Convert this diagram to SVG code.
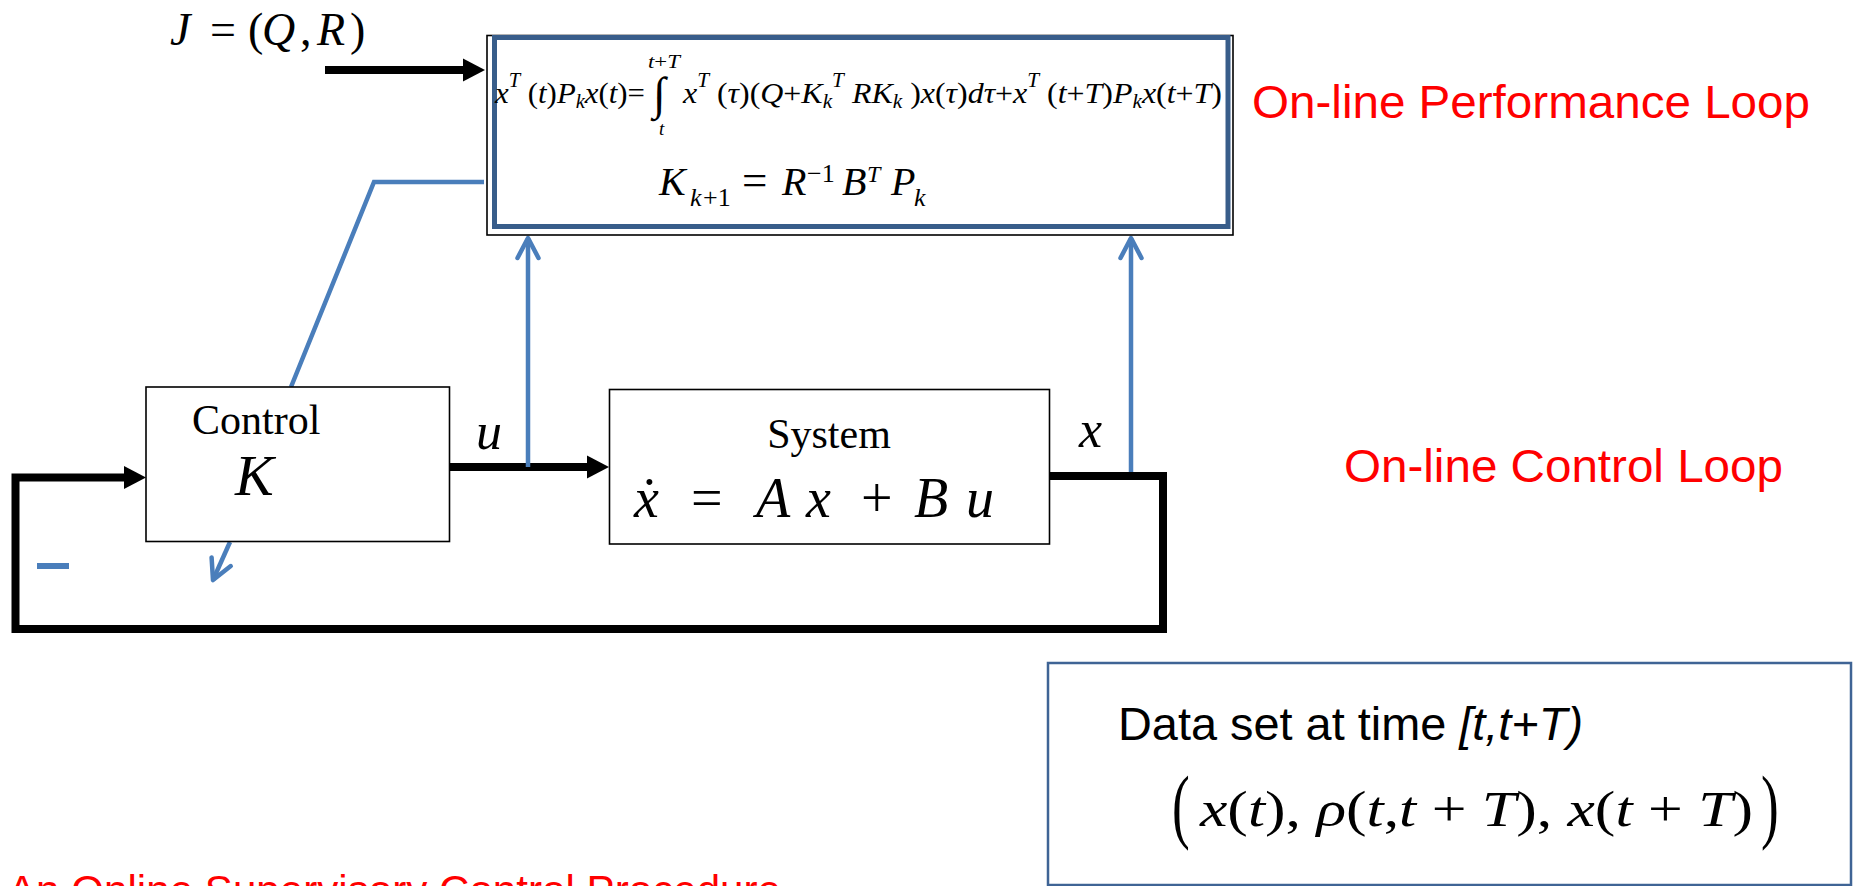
<svg xmlns="http://www.w3.org/2000/svg" width="1855" height="886" viewBox="0 0 1855 886">
<defs>
<style>
.serif{font-family:"Liberation Serif","Times New Roman",serif;fill:#000}
.sans{font-family:"Liberation Sans",Arial,sans-serif}
.it{font-style:italic}
.red{fill:#FF0000}
.sup{font-size:20px}
.sub{font-size:20px}
.box{fill:#fff;stroke:#000;stroke-width:1.6}
.heavy{fill:none;stroke:#000;stroke-width:8;stroke-linejoin:miter}
.blue{fill:none;stroke:#4A7EBB;stroke-width:4.5}
</style>
<marker id="ahb" markerUnits="userSpaceOnUse" viewBox="0 -12 22 24" refX="0" refY="0" markerWidth="22" markerHeight="24" orient="auto">
<path d="M0,-11.5 L22,0 L0,11.5 Z" fill="#000"/>
</marker>
<marker id="ahu" markerUnits="userSpaceOnUse" viewBox="-24 -14 28 28" refX="0" refY="0" markerWidth="28" markerHeight="28" orient="auto" overflow="visible">
<path d="M-20,-10.5 L0,0 L-20,10.5" fill="none" stroke="#4A7EBB" stroke-width="4.5" stroke-linecap="round" stroke-linejoin="round"/>
</marker>
</defs>
<rect width="1855" height="886" fill="#fff"/>

<g id="connectors">
<path class="heavy" d="M325,70 H463" marker-end="url(#ahb)"/>
<path class="heavy" d="M449.5,467 H587" marker-end="url(#ahb)"/>
<path class="heavy" d="M1050,476 H1163 V629 H15.5 V477.5 H124" marker-end="url(#ahb)"/>
<path class="blue" d="M484,182 H374 L291,387"/>
<path class="blue" d="M528,467 V238" marker-end="url(#ahu)"/>
<path class="blue" d="M1131,472 V238" marker-end="url(#ahu)"/>
<path class="blue" d="M230,542 L213,580" marker-end="url(#ahu)"/>
</g>

<g id="minus-sign">
<path d="M37,566 H69" stroke="#4A7EBB" stroke-width="6" fill="none"/>
</g>

<g id="cost-label">
<text class="serif" font-size="46" y="45"><tspan class="it" x="170">J</tspan><tspan x="210">=</tspan><tspan x="248">(</tspan><tspan class="it" x="262">Q</tspan><tspan x="300">,</tspan><tspan class="it" x="317">R</tspan><tspan x="350">)</tspan></text>
</g>

<g id="performance-box">
<rect x="487" y="35.5" width="746" height="199.5" fill="#fff" stroke="#000" stroke-width="1.6"/>
<rect x="494.5" y="37.5" width="733.5" height="189" fill="#fff" stroke="#385D8A" stroke-width="5"/>
<text class="serif" x="495" y="103" font-size="30" textLength="150" lengthAdjust="spacingAndGlyphs"><tspan class="it">x</tspan><tspan class="it sup" dy="-16">T</tspan><tspan dy="16"> (</tspan><tspan class="it">t</tspan>)<tspan class="it">P</tspan><tspan class="it sub" dy="5">k</tspan><tspan class="it" dy="-5">x</tspan>(<tspan class="it">t</tspan>)=</text>
<text class="serif" x="648" y="68" font-size="19" textLength="32" lengthAdjust="spacingAndGlyphs"><tspan class="it">t</tspan>+<tspan class="it">T</tspan></text>
<text class="serif" x="653" y="109" font-size="46">∫</text>
<text class="serif it" x="659" y="135" font-size="19">t</text>
<text class="serif" x="683" y="103" font-size="30" textLength="539" lengthAdjust="spacingAndGlyphs"><tspan class="it">x</tspan><tspan class="it sup" dy="-16">T</tspan><tspan dy="16"> (</tspan><tspan class="it">τ</tspan>)(<tspan class="it">Q</tspan>+<tspan class="it">K</tspan><tspan class="it sub" dy="5">k</tspan><tspan class="it sup" dy="-21">T</tspan><tspan class="it" dy="16"> RK</tspan><tspan class="it sub" dy="5">k</tspan><tspan dy="-5"> )</tspan><tspan class="it">x</tspan>(<tspan class="it">τ</tspan>)<tspan class="it">dτ</tspan>+<tspan class="it">x</tspan><tspan class="it sup" dy="-16">T</tspan><tspan dy="16"> (</tspan><tspan class="it">t</tspan>+<tspan class="it">T</tspan>)<tspan class="it">P</tspan><tspan class="it sub" dy="5">k</tspan><tspan class="it" dy="-5">x</tspan>(<tspan class="it">t</tspan>+<tspan class="it">T</tspan>)</text>
<text class="serif" font-size="40" y="195"><tspan class="it" x="659">K</tspan><tspan class="it" x="690" y="206" font-size="26">k</tspan><tspan x="703" y="206" font-size="26">+1</tspan><tspan x="742" y="195" font-size="45">=</tspan><tspan class="it" x="782" y="195">R</tspan><tspan x="807" y="182" font-size="26">−1</tspan><tspan class="it" x="842" y="195">B</tspan><tspan class="it" x="867" y="182" font-size="24">T</tspan><tspan class="it" x="891" y="195">P</tspan><tspan class="it" x="914" y="206" font-size="26">k</tspan></text>
</g>

<g id="control-box">
<rect class="box" x="146" y="387" width="303.5" height="154.5"/>
<text class="serif" x="192" y="434" font-size="42">Control</text>
<text class="serif it" x="235" y="495" font-size="58">K</text>
</g>

<g id="system-box">
<rect class="box" x="609.5" y="389.5" width="440" height="154.5"/>
<text class="serif" x="829" y="448" font-size="42" text-anchor="middle">System</text>
<text class="serif" font-size="56" y="517"><tspan class="it" x="634">x</tspan><tspan x="640">˙</tspan><tspan x="691">=</tspan><tspan class="it" x="756">A</tspan><tspan class="it" x="806">x</tspan><tspan x="861">+</tspan><tspan class="it" x="914">B</tspan><tspan class="it" x="966">u</tspan></text>
</g>

<g id="signal-labels">
<text class="serif it" x="476" y="449" font-size="52">u</text>
<text class="serif it" x="1079" y="447" font-size="52">x</text>
</g>

<g id="data-box">
<rect x="1048" y="663" width="803" height="222" fill="#fff" stroke="#3F6495" stroke-width="2.5"/>
<text class="sans" x="1118" y="740" font-size="46" textLength="465" lengthAdjust="spacingAndGlyphs">Data set at time <tspan font-style="italic">[t,t+T)</tspan></text>
<text class="serif" font-size="82" transform="translate(1172,833) scale(0.65,1)">(</text>
<text class="serif" x="1200" y="826" font-size="50" textLength="553" lengthAdjust="spacingAndGlyphs"><tspan class="it">x</tspan>(<tspan class="it">t</tspan>), <tspan class="it">ρ</tspan>(<tspan class="it">t</tspan>,<tspan class="it">t</tspan> + <tspan class="it">T</tspan>), <tspan class="it">x</tspan>(<tspan class="it">t</tspan> + <tspan class="it">T</tspan>)</text>
<text class="serif" font-size="82" transform="translate(1761,833) scale(0.65,1)">)</text>
</g>

<g id="loop-labels">
<text class="sans red" x="1252" y="118" font-size="47" textLength="558" lengthAdjust="spacingAndGlyphs">On-line Performance Loop</text>
<text class="sans red" x="1344" y="482" font-size="47" textLength="439" lengthAdjust="spacingAndGlyphs">On-line Control Loop</text>
<text class="sans red" x="8" y="905" font-size="42" textLength="773" lengthAdjust="spacingAndGlyphs">An Online Supervisory Control Procedure</text>
</g>
</svg>
